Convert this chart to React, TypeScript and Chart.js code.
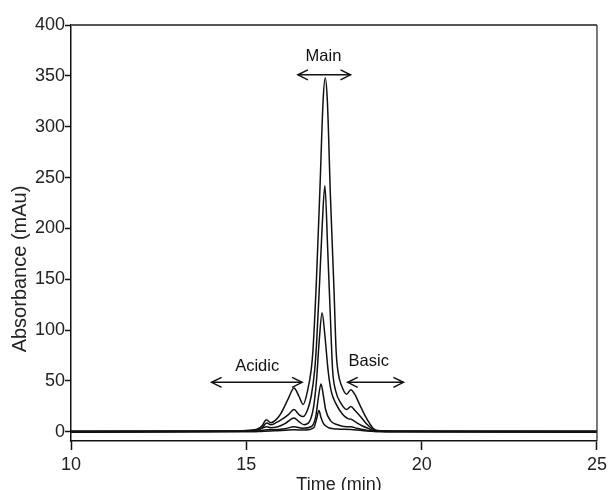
import React, { useEffect, useRef } from "react";
import { Chart, registerables } from "chart.js";

Chart.register(...registerables);

const FONT = "'Liberation Sans', Arial, Helvetica, sans-serif";

// Axis ranges and tick values
const timeMin = 10;
const timeMax = 25;
const timeStep = 5;
const absMin = -9;
const absMax = 400;
const absStep = 50;

const xTitle = "Time (min)";
const yTitle = "Absorbance (mAu)";

// Chromatograms for five sample loads: retention time (min) and absorbance (mAu)
const load1Time = [10, 14.5, 14.9, 15.3, 15.45, 15.57, 15.7, 15.85, 16.0, 16.2, 16.36, 16.5, 16.62, 16.75, 16.85, 16.9, 17.0, 17.1, 17.19, 17.25, 17.31, 17.4, 17.5, 17.56, 17.62, 17.72, 17.86, 17.98, 18.09, 18.23, 18.37, 18.52, 18.63, 18.75, 19.2, 20, 25];
const load1Abs = [0.8, 0.8, 1.2, 2.5, 6, 12, 9, 12, 19, 33, 43, 35, 27, 41, 61, 80, 150, 240, 326, 348, 326, 230, 140, 80, 58, 45, 37, 41.5, 37, 27, 17, 8, 3, 1.3, 0.9, 0.8, 0.8];

const load2Time = [10, 14.9, 15.3, 15.45, 15.58, 15.7, 15.85, 16.0, 16.2, 16.36, 16.5, 16.62, 16.75, 16.85, 16.95, 17.0, 17.08, 17.16, 17.24, 17.32, 17.4, 17.46, 17.55, 17.7, 17.86, 17.98, 18.1, 18.23, 18.4, 18.55, 18.7, 19.2, 25];
const load2Abs = [0.4, 0.6, 2, 4, 8.7, 7, 9, 12, 17, 22, 17, 15, 22, 35, 61, 85, 140, 200, 242, 180, 110, 61, 40, 28, 22, 25, 21, 16, 9, 4, 1, 0.5, 0.4];

const load3Time = [10, 15.0, 15.3, 15.58, 15.7, 15.9, 16.1, 16.36, 16.5, 16.65, 16.8, 16.92, 17.0, 17.08, 17.16, 17.24, 17.33, 17.42, 17.55, 17.75, 17.9, 17.98, 18.1, 18.3, 18.5, 18.65, 19.0, 25];
const load3Abs = [0, 0.5, 1.5, 5, 4, 5, 8, 13.7, 10, 7, 10, 25, 50, 90, 117, 95, 61, 40, 28, 17, 13, 12.5, 10, 6, 3, 1, 0.2, 0];

const load4Time = [10, 15.2, 15.6, 15.8, 16.1, 16.36, 16.6, 16.85, 16.98, 17.06, 17.13, 17.2, 17.26, 17.4, 17.6, 17.85, 17.98, 18.15, 18.4, 18.7, 25];
const load4Abs = [-0.4, 0.3, 2, 2, 3, 5, 3.5, 5, 15, 35, 47, 35, 22, 11, 7, 5, 5, 3.5, 1.8, 0.4, -0.4];

const load5Time = [10, 15.4, 15.8, 16.36, 16.7, 16.92, 17.0, 17.07, 17.13, 17.2, 17.35, 17.6, 17.98, 18.3, 18.7, 25];
const load5Abs = [0.2, 0.4, 1, 2, 1.8, 4, 12, 21, 14, 8, 4, 2.8, 2.3, 1.2, 0.4, 0.2];

const traces = [
  { time: load1Time, abs: load1Abs },
  { time: load2Time, abs: load2Abs },
  { time: load3Time, abs: load3Abs },
  { time: load4Time, abs: load4Abs },
  { time: load5Time, abs: load5Abs },
];

// Charge-variant regions marked with double-headed arrows
const regionNames = ["Acidic", "Main", "Basic"];
const regionFrom = [14.01, 16.47, 17.89];
const regionTo = [16.59, 17.97, 19.48];
const regionArrowAbs = [48.7, 351, 48.7];
const regionLabelTime = [15.31, 17.2, 18.49];
const regionLabelAbs = [60.2, 364.4, 65.1];

const framePlugin = {
  id: "frame",
  afterDraw(chart: any) {
    const { ctx, chartArea: a } = chart;
    ctx.save();
    ctx.strokeStyle = "#555";
    ctx.lineWidth = 2;
    ctx.beginPath();
    ctx.moveTo(a.left, a.top);
    ctx.lineTo(a.right, a.top);
    ctx.stroke();
    ctx.strokeStyle = "#333";
    ctx.lineWidth = 1.3;
    ctx.beginPath();
    ctx.moveTo(a.right, a.top);
    ctx.lineTo(a.right, a.bottom);
    ctx.stroke();
    ctx.restore();
  },
};

const regionPlugin = {
  id: "regions",
  afterDatasetsDraw(chart: any) {
    const { ctx } = chart;
    const xs = chart.scales.x;
    const ys = chart.scales.y;
    ctx.save();
    ctx.strokeStyle = "#111";
    ctx.fillStyle = "#111";
    ctx.lineWidth = 1.5;
    ctx.lineJoin = "miter";
    const head = 10;
    const half = 5;
    regionNames.forEach((name, i) => {
      const x0 = xs.getPixelForValue(regionFrom[i]);
      const x1 = xs.getPixelForValue(regionTo[i]);
      const y = ys.getPixelForValue(regionArrowAbs[i]);
      ctx.beginPath();
      ctx.moveTo(x0, y);
      ctx.lineTo(x1, y);
      ctx.stroke();
      ctx.beginPath();
      ctx.moveTo(x0 + head, y - half);
      ctx.lineTo(x0, y);
      ctx.lineTo(x0 + head, y + half);
      ctx.moveTo(x1 - head, y - half);
      ctx.lineTo(x1, y);
      ctx.lineTo(x1 - head, y + half);
      ctx.stroke();
      ctx.font = `16.5px ${FONT}`;
      ctx.textAlign = "center";
      ctx.textBaseline = "alphabetic";
      ctx.fillText(name, xs.getPixelForValue(regionLabelTime[i]), ys.getPixelForValue(regionLabelAbs[i]));
    });
    ctx.restore();
  },
};

const titlePlugin = {
  id: "axisTitles",
  afterDraw(chart: any) {
    const { ctx, chartArea: a } = chart;
    ctx.save();
    ctx.fillStyle = "#222";
    ctx.font = `18px ${FONT}`;
    ctx.textAlign = "center";
    ctx.textBaseline = "alphabetic";
    ctx.fillText(xTitle, (a.left + a.right) / 2 + 5, 490);
    ctx.translate(20, 269);
    ctx.rotate(-Math.PI / 2);
    ctx.font = `20px ${FONT}`;
    ctx.textBaseline = "middle";
    ctx.fillText(yTitle, 0, 0);
    ctx.restore();
  },
};

export default function App() {
  const canvasRef = useRef<HTMLCanvasElement | null>(null);

  useEffect(() => {
    const canvas = canvasRef.current;
    if (!canvas) return;
    const tickFont = { family: FONT, size: 18 };
    const chart = new Chart(canvas, {
      type: "line",
      data: {
        datasets: traces.map((tr) => ({
          data: tr.time.map((t, i) => ({ x: t, y: tr.abs[i] })),
          borderColor: "#111",
          borderWidth: 1.5,
          pointRadius: 0,
          fill: false,
          cubicInterpolationMode: "monotone" as const,
        })),
      },
      options: {
        responsive: false,
        animation: false,
        devicePixelRatio: 1,
        layout: { padding: { left: 0, top: 25, right: 13, bottom: 0 } },
        plugins: {
          legend: { display: false },
          tooltip: { enabled: false },
        },
        scales: {
          x: {
            type: "linear",
            min: timeMin,
            max: timeMax,
            ticks: {
              stepSize: timeStep,
              includeBounds: false,
              padding: 4,
              color: "#222",
              font: tickFont,
              maxRotation: 0,
            },
            grid: {
              drawOnChartArea: false,
              drawTicks: true,
              tickLength: 9,
              tickWidth: 1.5,
              tickColor: "#111",
            },
            border: { display: true, color: "#111", width: 1.5 },
            afterFit: (s: any) => {
              s.height = 49;
            },
          },
          y: {
            type: "linear",
            min: absMin,
            max: absMax,
            ticks: {
              stepSize: absStep,
              includeBounds: false,
              padding: 0,
              color: "#222",
              font: tickFont,
            },
            grid: {
              drawOnChartArea: false,
              drawTicks: true,
              tickLength: 6,
              tickWidth: 1.5,
              tickColor: "#111",
            },
            border: { display: true, color: "#111", width: 1.5 },
            afterFit: (s: any) => {
              s.width = 71;
            },
          },
        },
      },
      plugins: [framePlugin, regionPlugin, titlePlugin],
    });
    return () => chart.destroy();
  }, []);

  return (
    <div style={{ position: "absolute", left: 0, top: 0, width: 611, height: 490, background: "#fff" }}>
      <canvas ref={canvasRef} width={611} height={490} style={{ display: "block" }} />
    </div>
  );
}
